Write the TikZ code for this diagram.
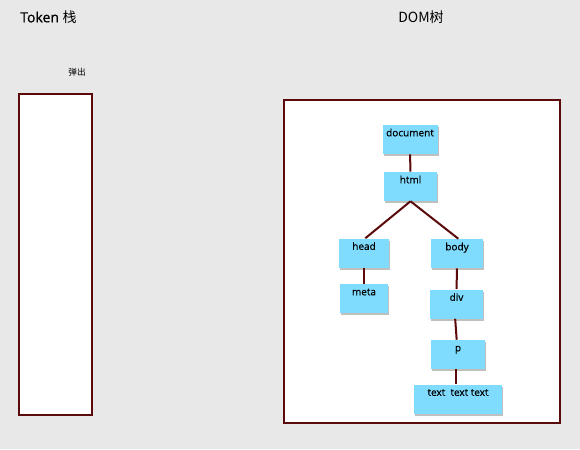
\documentclass[tikz,border=0pt]{standalone}
\usepackage{fontspec}
\setmainfont{Open Sans}[FakeBold=0.6]
\newfontfamily\cjk{Noto Sans CJK SC}
\usetikzlibrary{shadows}
\definecolor{bgGrey}{HTML}{E8E8E8}
\definecolor{boxRed}{HTML}{5A0A0A}
\definecolor{nodeBlue}{HTML}{80DCFF}
\tikzset{
  dom/.style={fill=nodeBlue, inner sep=0pt, minimum height=21.75pt,
    text height=8.5pt, text depth=13.25pt, font=\fontsize{7.5}{9}\selectfont,
    drop shadow={shadow xshift=1pt, shadow yshift=-1.5pt, fill=black, opacity=0.25}},
  link/.style={draw=boxRed, line width=1.5pt},
  frame/.style={draw=boxRed, line width=1.5pt, fill=white}
}
\begin{document}
\begin{tikzpicture}[x=0.75pt, y=-0.75pt]

    \fill[bgGrey] (0,0) rectangle (580,449);
    \useasboundingbox (0,0) rectangle (580,449);

    \node[anchor=west, inner sep=0pt, font=\fontsize{10.5}{12}\selectfont] (tokT) at (20,17) {Token {\cjk 栈}};
    \node[font=\cjk\fontsize{10.5}{12}\selectfont] (domT) at (421,17) {DOM树};
    \node[font=\cjk\fontsize{6.5}{8}\selectfont] (pop) at (77,72) {弹出};

    \draw[frame] (19,94) rectangle (92,415);
    \draw[frame] (284,100) rectangle (560,423);

    \node[dom, minimum width=41.25pt] (document) at (410,139.5) {document};
    \node[dom, minimum width=39.75pt] (html) at (410.5,186.5) {html};
    \node[dom, minimum width=37.5pt] (head) at (364,253) {head};
    \node[dom, minimum width=39pt] (body) at (457,253.5) {body};
    \node[dom, minimum width=36pt] (meta) at (364,298.5) {meta};
    \node[dom, minimum width=39.75pt] (div) at (456.5,304) {div};
    \node[dom, minimum width=40.5pt] (p) at (458,354.5) {p};
    \node[dom, minimum width=66pt] (text) at (458,399) {text\ \ text text};

    \draw[link] (document) -- (html);
    \draw[link] (html.south) -- ([xshift=1pt]head.north);
    \draw[link] (html.south) -- ([xshift=1pt]body.north);
    \draw[link] (head) -- (meta);
    \draw[link] (body) -- (div);
    \draw[link] ([xshift=-1pt]div.south) -- ([xshift=-1pt]p.north);
    \draw[link] ([xshift=-1.5pt]p.south) -- ([xshift=-1.5pt]text.north);

\end{tikzpicture}
\end{document}
